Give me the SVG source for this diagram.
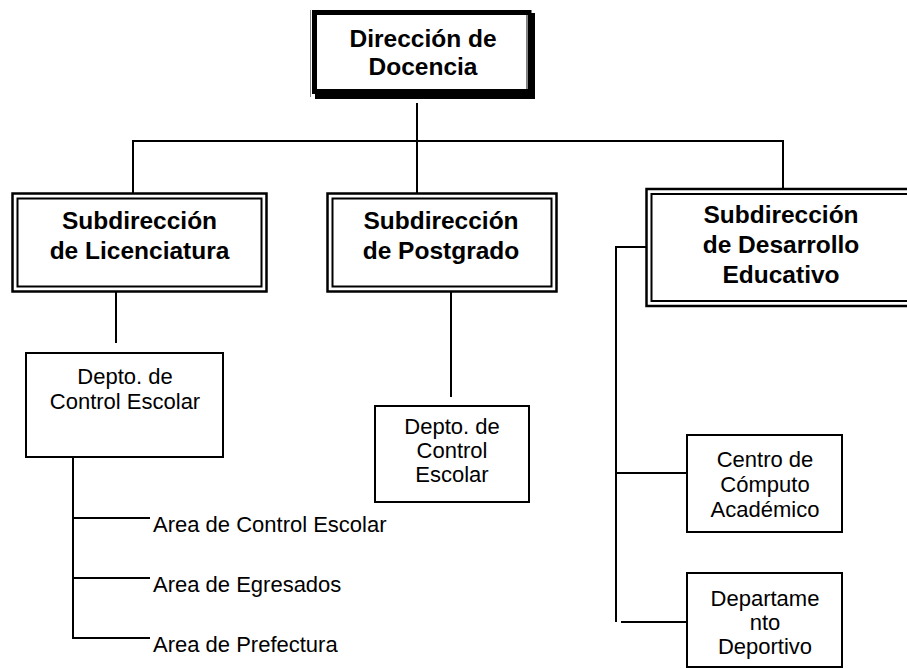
<svg xmlns="http://www.w3.org/2000/svg" width="907" height="669" viewBox="0 0 907 669">
<style>
.bg{fill:#fff}
.t{font-family:"Liberation Sans",Arial,sans-serif;font-size:24.5px;font-weight:bold;fill:#000;text-anchor:middle}
.r{font-family:"Liberation Sans",Arial,sans-serif;font-size:22px;fill:#000;text-anchor:middle}
.a{font-family:"Liberation Sans",Arial,sans-serif;font-size:22px;fill:#000}
.dbl{fill:#fff;stroke:#000;stroke-width:2.5}
.in{fill:none;stroke:#000;stroke-width:2}
.box{fill:#fff;stroke:#000;stroke-width:2}
.c{fill:none;stroke:#000;stroke-width:2}
</style>
<rect class="bg" x="0" y="0" width="907" height="669"/>

<g id="connectors">
  <line class="c" x1="132" y1="141" x2="784" y2="141"/>
  <line class="c" x1="417" y1="103" x2="417" y2="193"/>
  <line class="c" x1="133" y1="141" x2="133" y2="193"/>
  <line class="c" x1="783" y1="141" x2="783" y2="189"/>
  <line class="c" x1="116" y1="286" x2="116" y2="343"/>
  <line class="c" x1="73" y1="458" x2="73" y2="638"/>
  <line class="c" x1="73" y1="518" x2="150" y2="518"/>
  <line class="c" x1="73" y1="578" x2="150" y2="578"/>
  <line class="c" x1="72" y1="638" x2="150" y2="638"/>
  <line class="c" x1="451" y1="292" x2="451" y2="397"/>
  <line class="c" x1="616" y1="247" x2="646" y2="247"/>
  <line class="c" x1="616" y1="246" x2="616" y2="622"/>
  <line class="c" x1="616" y1="473" x2="692" y2="473"/>
  <line class="c" x1="621" y1="622" x2="692" y2="622"/>
</g>

<g id="direccion">
  <rect x="315" y="13" width="220" height="86" fill="#000"/>
  <rect x="314.5" y="12.5" width="214.5" height="79" fill="#fff" stroke="#000" stroke-width="5"/>
  <line x1="310.5" y1="10" x2="310.5" y2="97" stroke="#888" stroke-width="1"/>
  <line x1="527.5" y1="15" x2="527.5" y2="89" stroke="#888" stroke-width="1"/>
  <text class="t" x="423" y="47">Dirección de</text>
  <text class="t" x="423" y="75">Docencia</text>
</g>

<g id="sub-licenciatura">
  <rect class="dbl" x="12.5" y="193.5" width="254" height="98"/>
  <rect class="in" x="17.5" y="198.5" width="244" height="88"/>
  <text class="t" x="139.5" y="229">Subdirección</text>
  <text class="t" x="139.5" y="259">de Licenciatura</text>
</g>

<g id="sub-postgrado">
  <rect class="dbl" x="327.5" y="193.5" width="229" height="98"/>
  <rect class="in" x="332.5" y="198.5" width="219" height="88"/>
  <text class="t" x="441" y="229">Subdirección</text>
  <text class="t" x="441" y="259">de Postgrado</text>
</g>

<g id="sub-desarrollo">
  <rect class="dbl" x="646.5" y="189" width="280" height="117"/>
  <rect class="in" x="651.5" y="194" width="270" height="107"/>
  <text class="t" x="781" y="223">Subdirección</text>
  <text class="t" x="781" y="253">de Desarrollo</text>
  <text class="t" x="781" y="283">Educativo</text>
</g>

<g id="depto-control-lic">
  <rect class="box" x="26" y="353" width="197" height="104"/>
  <text class="r" x="125" y="384">Depto. de</text>
  <text class="r" x="125" y="409">Control Escolar</text>
</g>

<g id="area-control">
  <text class="a" x="153" y="532">Area de Control Escolar</text>
</g>
<g id="area-egresados">
  <text class="a" x="153" y="592">Area de Egresados</text>
</g>
<g id="area-prefectura">
  <text class="a" x="153" y="652">Area de Prefectura</text>
</g>

<g id="depto-control-post">
  <rect class="box" x="375" y="406" width="154" height="96"/>
  <text class="r" x="452" y="434">Depto. de</text>
  <text class="r" x="452" y="458">Control</text>
  <text class="r" x="452" y="482">Escolar</text>
</g>

<g id="centro-computo">
  <rect class="box" x="687" y="435" width="155" height="97"/>
  <text class="r" x="765" y="467">Centro de</text>
  <text class="r" x="765" y="492">Cómputo</text>
  <text class="r" x="765" y="517">Académico</text>
</g>

<g id="depto-deportivo">
  <rect class="box" x="687" y="573" width="155" height="94"/>
  <text class="r" x="765" y="606">Departame</text>
  <text class="r" x="765" y="630">nto</text>
  <text class="r" x="765" y="654">Deportivo</text>
</g>
</svg>
